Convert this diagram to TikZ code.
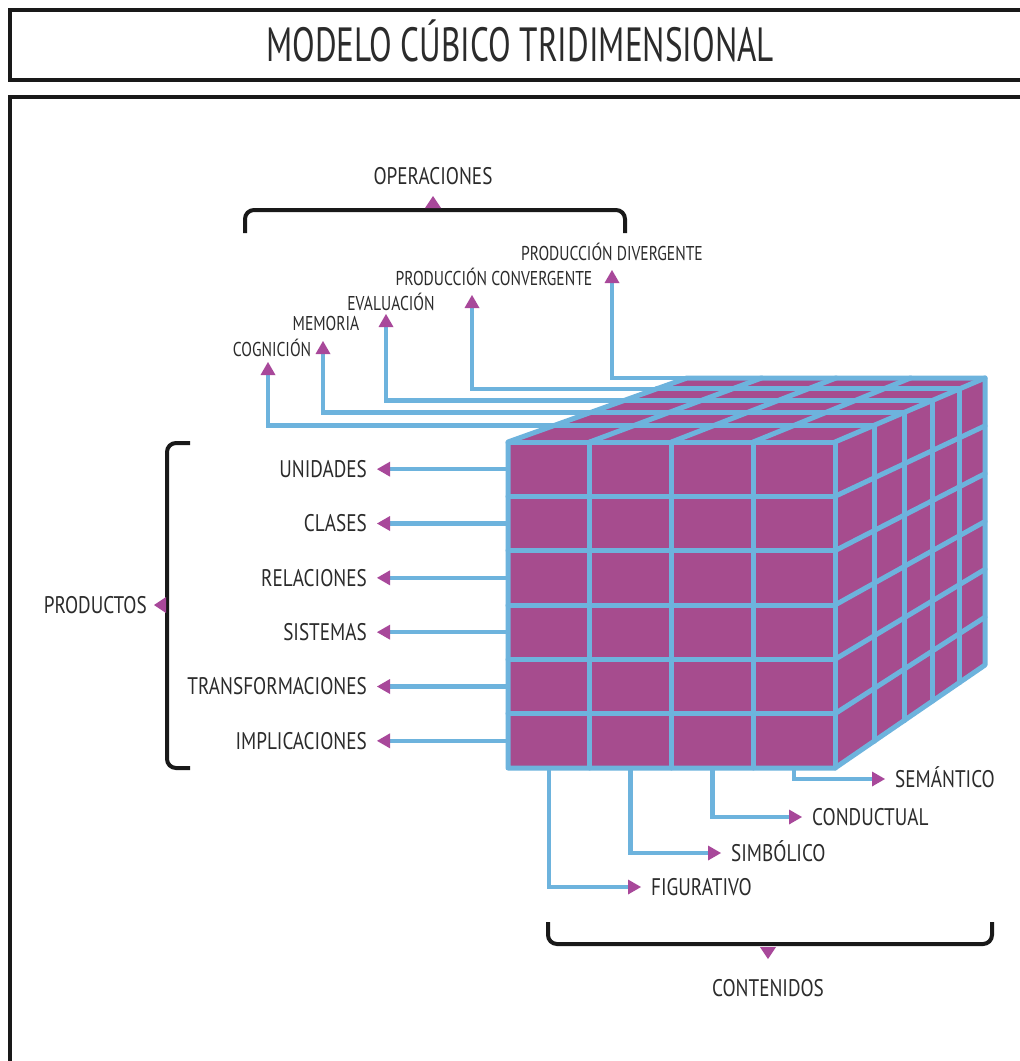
\documentclass[tikz,border=0pt]{standalone}
\usepackage{fontspec}
\setmainfont[FakeStretch=0.80]{PT Sans}
\newfontfamily\opsfont[FakeStretch=0.78]{PT Sans}
\newfontfamily\titlefont[FakeStretch=0.69]{PT Sans}
\usetikzlibrary{calc,arrows.meta}
\definecolor{cubefill}{HTML}{A64C8E}
\definecolor{gridblue}{HTML}{6DB3DD}
\definecolor{tipmag}{HTML}{A8489A}
\definecolor{ink}{HTML}{2B2B2B}
\begin{document}
\begin{tikzpicture}[x=1pt,y=-1pt,
  frame/.style={draw=black!90,line width=4pt},
  bracket/.style={draw=black!90,line width=4pt,rounded corners=9pt},
  grid/.style={draw=gridblue,line width=5pt,line join=round,line cap=round},
  conn/.style={draw=gridblue,line width=4.5pt,line join=miter},
  tipend/.style={-{Triangle[length=13pt,width=15pt,color=tipmag,line width=0pt]}},
  tipstart/.style={{Triangle[length=13pt,width=15pt,color=tipmag,line width=0pt]}-},
  lbl/.style={font=\fontsize{24}{26}\selectfont,text=ink,inner sep=0pt,text height=16.8pt,text depth=0pt},
  oplbl/.style={font=\opsfont\fontsize{20}{22}\selectfont,text=ink,inner sep=0pt,text height=14pt,text depth=0pt},
  ttl/.style={font=\titlefont\fontsize{48}{50}\selectfont,text=ink,inner sep=0pt,text height=33.6pt,text depth=0pt}
]
\useasboundingbox (0,0) rectangle (1020,1061);
\fill[white] (0,0) rectangle (1020,1061);

% frames
\draw[frame] (10,10) rectangle (1040,80);
\draw[frame] (1040,97) -- (10,97) -- (10,1080);
\node[ttl] (title) at (520,45) {MODELO CÚBICO TRIDIMENSIONAL};

% cube corners (front face, back corners)
\coordinate (F1) at (508,442);
\coordinate (F2) at (835,442);
\coordinate (F3) at (835,768);
\coordinate (F4) at (508,768);
\coordinate (B1) at (687,378);
\coordinate (B2) at (985,378);
\coordinate (B3) at (985,665);

% ---------- operaciones ----------
\node[lbl] (ops) at (433,176) {OPERACIONES};
\draw[bracket] (245,233) -- (245,210) -- (625,210) -- (625,233);
\fill[tipmag] (433,196) -- (441,208) -- (425,208) -- cycle;

\node[oplbl] (div) at (612,253) {PRODUCCIÓN DIVERGENTE};
\node[oplbl] (conv) at (494,278) {PRODUCCIÓN CONVERGENTE};
\node[oplbl] (eval) at (391,303) {EVALUACIÓN};
\node[oplbl] (mem) at (326,323) {MEMORIA};
\node[oplbl] (cog) at (272,349) {COGNICIÓN};

\coordinate (divtip) at (612,270);
\coordinate (convtip) at (472,295);
\coordinate (evaltip) at (386,314);
\coordinate (memtip) at (323,341);
\coordinate (cogtip) at (268,362);

\coordinate (opE1) at ($(F1)!0.26!(B1)$);
\coordinate (opE2) at ($(F1)!0.46!(B1)$);
\coordinate (opE3) at ($(F1)!0.65!(B1)$);
\coordinate (opE4) at ($(F1)!0.83!(B1)$);
\coordinate (opE5) at (B1);

\draw[conn,tipstart] (cogtip) |- (opE1);
\draw[conn,tipstart] (memtip) |- (opE2);
\draw[conn,tipstart] (evaltip) |- (opE3);
\draw[conn,tipstart] (convtip) |- (opE4);
\draw[conn,tipstart] (divtip) |- (opE5);

% ---------- productos ----------
\draw[bracket] (190,443) -- (167,443) -- (167,768) -- (190,768);
\fill[tipmag] (154,605) -- (166,597) -- (166,613) -- cycle;
\node[lbl,anchor=east] (prod) at (147,605) {PRODUCTOS};

\foreach \lab/\nm [count=\j from 0] in {UNIDADES/uni,CLASES/cla,RELACIONES/rel,SISTEMAS/sis,TRANSFORMACIONES/tra,IMPLICACIONES/imp}{
  \node[lbl,anchor=east] (\nm) at (367,{442+54.333*(\j+0.5)}) {\lab};
  \coordinate (\nm tip) at (377,{442+54.333*(\j+0.5)});
  \coordinate (\nm row) at (508,{442+54.333*(\j+0.5)});
  \draw[conn,tipend] (\nm row) -- (\nm tip);
}

% ---------- contenidos ----------
\foreach \lab/\nm/\yy/\tx [count=\i from 0] in {FIGURATIVO/fig/887/641,SIMBÓLICO/sim/853/721,CONDUCTUAL/con/817/802,SEMÁNTICO/sem/779/885}{
  \coordinate (\nm col) at ({508+81.75*(\i+0.5)},768);
  \coordinate (\nm tip) at (\tx,\yy);
  \node[lbl,anchor=west] (\nm) at (\tx+10,\yy) {\lab};
  \draw[conn,tipend] (\nm col) |- (\nm tip);
}
\draw[bracket] (548,922) -- (548,944) -- (992,944) -- (992,922);
\fill[tipmag] (768,959) -- (776,947) -- (760,947) -- cycle;
\node[lbl] (cont) at (768,988) {CONTENIDOS};

% ---------- cube ----------
\fill[cubefill] (F1) -- (F2) -- (F3) -- (F4) -- cycle;
\fill[cubefill] (F1) -- (F2) -- (B2) -- (B1) -- cycle;
\fill[cubefill] (F2) -- (B2) -- (B3) -- (F3) -- cycle;

% front face grid
\foreach \i in {1,2,3}
  \draw[grid] ($(F1)!\i/4!(F2)$) -- ($(F4)!\i/4!(F3)$);
\foreach \j in {1,...,5}
  \draw[grid] ($(F1)!\j/6!(F4)$) -- ($(F2)!\j/6!(F3)$);
% top face grid
\foreach \t in {0.26,0.46,0.65,0.83}
  \draw[grid] ($(F1)!\t!(B1)$) -- ($(F2)!\t!(B2)$);
\foreach \i in {1,2,3}
  \draw[grid] ($(F1)!\i/4!(F2)$) -- ($(B1)!\i/4!(B2)$);
% right face grid
\foreach \t in {0.26,0.46,0.65,0.83}
  \draw[grid] ($(F2)!\t!(B2)$) -- ($(F3)!\t!(B3)$);
\foreach \j in {1,...,5}
  \draw[grid] ($(F2)!\j/6!(F3)$) -- ($(B2)!\j/6!(B3)$);
% outline
\draw[grid] (F4) -- (F1) -- (B1) -- (B2) -- (B3) -- (F3) -- cycle;
\draw[grid] (F1) -- (F2) -- (F3);
\draw[grid] (F2) -- (B2);
\end{tikzpicture}
\end{document}
